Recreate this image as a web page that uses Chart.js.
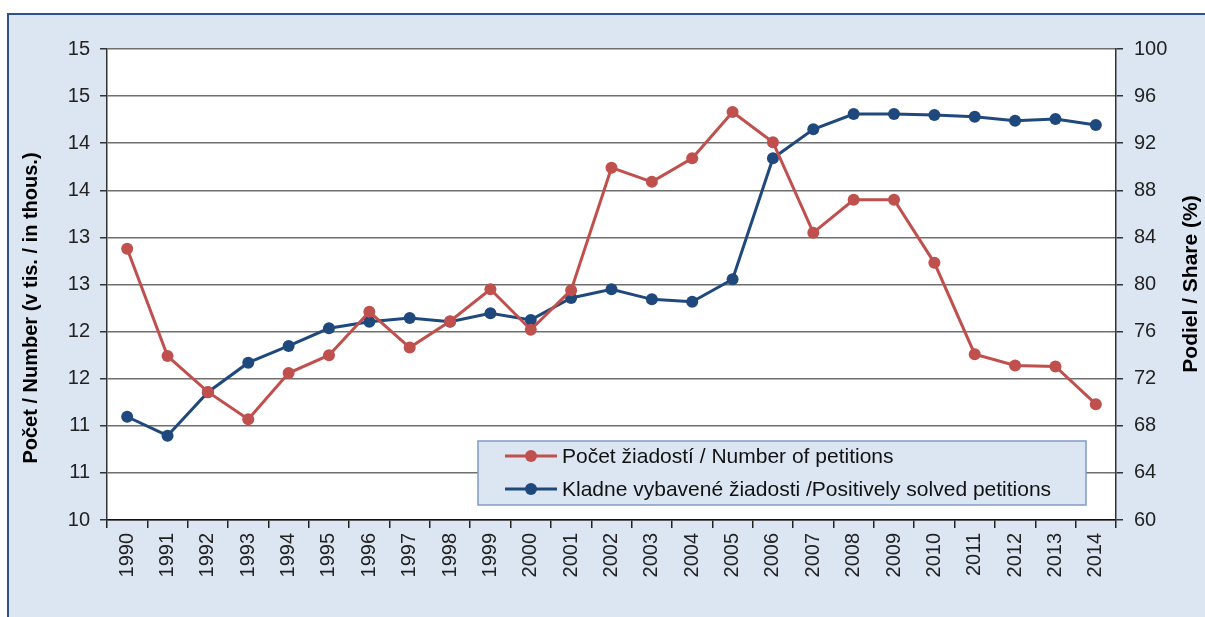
<!DOCTYPE html>
<html>
<head>
<meta charset="utf-8">
<script src="https://cdn.jsdelivr.net/npm/chart.js"></script>
<style>
  html, body { margin: 0; padding: 0; background: #fff; }
  canvas { display: block; }
</style>
</head>
<body>
<canvas id="chart" width="1205" height="617"></canvas>
<script>
// years on the x axis
const years = ["1990", "1991", "1992", "1993", "1994", "1995", "1996", "1997", "1998", "1999",
  "2000", "2001", "2002", "2003", "2004", "2005", "2006", "2007", "2008", "2009",
  "2010", "2011", "2012", "2013", "2014"];

// number of petitions (thousands, left axis)
const petitions = [12.88, 11.74, 11.36, 11.07, 11.56, 11.75, 12.21, 11.83, 12.11, 12.45,
  12.02, 12.44, 13.74, 13.59, 13.84, 14.33, 14.01, 13.05, 13.40, 13.40,
  12.73, 11.76, 11.64, 11.63, 11.23];

// positively solved petitions (share in %, right axis)
const positiveShare = [68.77, 67.16, 70.85, 73.36, 74.78, 76.28, 76.84, 77.15, 76.84, 77.55,
  76.99, 78.85, 79.59, 78.74, 78.54, 80.44, 90.72, 93.18, 94.48, 94.48,
  94.39, 94.25, 93.91, 94.06, 93.55];

// tick labels as printed in the original (left axis is rounded to whole numbers)
const leftTickLabels = ["10", "11", "11", "12", "12", "13", "13", "14", "14", "15", "15"];
const rightTickLabels = ["60", "64", "68", "72", "76", "80", "84", "88", "92", "96", "100"];

const leftTitle = "Počet / Number (v tis. / in thous.)";
const rightTitle = "Podiel / Share (%)";

const FONT = '"Liberation Sans", Arial, sans-serif';
const RED = "#c0504d";
const BLUE = "#1f497d";

// light blue panel with the white plot area
const backdrop = {
  id: "backdrop",
  beforeDraw(chart) {
    const { ctx, width, height, chartArea: a } = chart;
    ctx.save();
    ctx.fillStyle = "#fff";
    ctx.fillRect(0, 0, width, height);
    ctx.fillStyle = "#dce6f2";
    ctx.fillRect(8, 14, width - 8, height - 14);
    ctx.strokeStyle = "#2f528f";
    ctx.lineWidth = 2;
    ctx.beginPath();
    ctx.moveTo(8, height);
    ctx.lineTo(8, 14);
    ctx.lineTo(width, 14);
    ctx.stroke();
    ctx.fillStyle = "#fff";
    ctx.fillRect(a.left, a.top, a.right - a.left, a.bottom - a.top);
    ctx.restore();
  }
};

// rotated axis titles, both reading bottom to top
const axisTitles = {
  id: "axisTitles",
  afterDraw(chart) {
    const ctx = chart.ctx;
    ctx.save();
    ctx.fillStyle = "#000";
    ctx.textAlign = "center";
    ctx.textBaseline = "middle";
    ctx.save();
    ctx.font = "bold 20px " + FONT;
    ctx.translate(31, 308);
    ctx.rotate(-Math.PI / 2);
    ctx.fillText(leftTitle, 0, 0);
    ctx.restore();
    ctx.font = "bold 21px " + FONT;
    ctx.translate(1191, 284);
    ctx.rotate(-Math.PI / 2);
    ctx.fillText(rightTitle, 0, 0);
    ctx.restore();
  }
};

// boxed legend inside the plot, bottom right
const boxLegend = {
  id: "boxLegend",
  afterDatasetsDraw(chart) {
    const ctx = chart.ctx;
    const x = 478, y = 441, w = 608, h = 64;
    ctx.save();
    ctx.fillStyle = "#dce6f2";
    ctx.fillRect(x, y, w, h);
    ctx.strokeStyle = "#7f9cc4";
    ctx.lineWidth = 1.5;
    ctx.strokeRect(x, y, w, h);
    ctx.font = "21px " + FONT;
    ctx.textBaseline = "middle";
    ctx.textAlign = "left";
    chart.data.datasets.forEach((ds, i) => {
      const cy = y + 15 + i * 33;
      ctx.strokeStyle = ds.borderColor;
      ctx.lineWidth = 3;
      ctx.beginPath();
      ctx.moveTo(x + 27, cy);
      ctx.lineTo(x + 79, cy);
      ctx.stroke();
      ctx.fillStyle = ds.backgroundColor;
      ctx.beginPath();
      ctx.arc(x + 53, cy, 6, 0, Math.PI * 2);
      ctx.fill();
      ctx.fillStyle = "#111";
      ctx.fillText(ds.label, x + 84, cy + 1);
    });
    ctx.restore();
  }
};

new Chart(document.getElementById("chart"), {
  type: "line",
  data: {
    labels: years,
    datasets: [
      {
        label: "Počet žiadostí / Number of petitions",
        data: petitions,
        yAxisID: "yLeft",
        borderColor: RED,
        backgroundColor: RED,
        borderWidth: 3,
        pointRadius: 6,
        pointBorderWidth: 0,
        tension: 0
      },
      {
        label: "Kladne vybavené žiadosti /Positively solved petitions",
        data: positiveShare,
        yAxisID: "yRight",
        borderColor: BLUE,
        backgroundColor: BLUE,
        borderWidth: 3,
        pointRadius: 6,
        pointBorderWidth: 0,
        tension: 0
      }
    ]
  },
  options: {
    responsive: false,
    animation: false,
    devicePixelRatio: 1,
    layout: { padding: { left: 8, top: 49, right: 0, bottom: 0 } },
    plugins: {
      legend: { display: false },
      tooltip: { enabled: false }
    },
    scales: {
      x: {
        offset: true,
        afterFit(scale) { scale.height = 97; },
        grid: {
          offset: true,
          drawOnChartArea: false,
          tickLength: 8,
          color: "#222",
          lineWidth: 1.5
        },
        border: { color: "#111", width: 1.5 },
        ticks: {
          autoSkip: false,
          minRotation: 90,
          maxRotation: 90,
          padding: 5,
          color: "#222",
          font: { family: FONT, size: 20 }
        }
      },
      yLeft: {
        position: "left",
        min: 10,
        max: 15,
        afterFit(scale) { scale.width = 99; },
        grid: {
          color: "#6f6f6f",
          lineWidth: 1.5,
          tickLength: 7,
          tickColor: "#333"
        },
        border: { color: "#333", width: 1.5 },
        ticks: {
          stepSize: 0.5,
          padding: 10,
          color: "#222",
          font: { family: FONT, size: 20 },
          callback: (v, i) => leftTickLabels[i]
        }
      },
      yRight: {
        position: "right",
        min: 60,
        max: 100,
        afterFit(scale) { scale.width = 89; },
        grid: {
          drawOnChartArea: false,
          tickLength: 7,
          color: "#333",
          lineWidth: 1.5
        },
        border: { color: "#333", width: 1.5 },
        ticks: {
          stepSize: 4,
          padding: 11,
          color: "#222",
          font: { family: FONT, size: 20 },
          callback: (v, i) => rightTickLabels[i]
        }
      }
    }
  },
  plugins: [backdrop, boxLegend, axisTitles]
});
</script>
</body>
</html>
